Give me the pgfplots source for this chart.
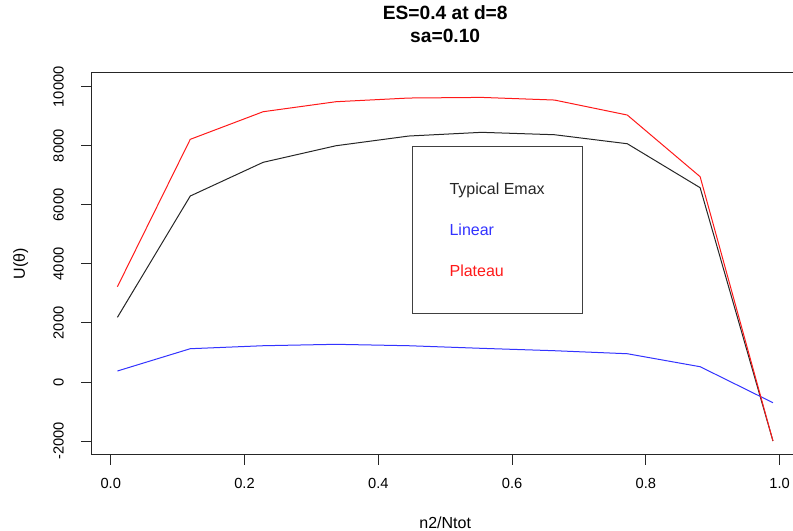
\documentclass[border=0pt]{standalone}
\usepackage{fontspec}
\setmainfont{Liberation Sans}
\usepackage{pgfplots}
\pgfplotsset{compat=1.18}
\pgfplotstableread{
x        emax   linear  plateau
0.01     2191   373     3228
0.11889  6300   1128    8220
0.22778  7441   1229    9155
0.33667  8003   1277    9494
0.44556  8332   1229    9619
0.55444  8457   1141    9640
0.66333  8376   1060    9551
0.77222  8071   958     9043
0.88111  6581   518     6954
0.99     -1998  -701    -1998
}\datatable
\begin{document}
\begin{tikzpicture}
\useasboundingbox (0,0) rectangle (594.75pt,398.25pt);
\begin{axis}[
  at={(68.4pt,57pt)}, anchor=south west,
  scale only axis, width=531pt, height=286.7pt,
  xmin=-0.0292, xmax=1.0292, ymin=-2472, ymax=10476,
  axis line style={black!85, line width=0.75pt},
  tick style={black!85, line width=0.75pt},
  tick pos=left, tick align=outside, major tick length=7.5pt,
  xtick={0,0.2,0.4,0.6,0.8,1},
  ytick={-2000,0,2000,4000,6000,8000,10000},
  scaled x ticks=false, scaled y ticks=false,
  /pgf/number format/assume math mode=true,
  xticklabel={\pgfmathprintnumber[fixed, fixed zerofill, precision=1]{\tick}},
  yticklabel={\pgfmathprintnumber[int detect, 1000 sep={}]{\tick}},
  ticklabel style={font=\fontsize{11}{13}\selectfont},
  xticklabel style={anchor=north, inner sep=0pt, yshift=-9.5pt},
  yticklabel style={xshift=-12.9pt, rotate=90, anchor=south, inner sep=0pt},
  xlabel={n2/Ntot},
  ylabel={U(θ)},
  label style={font=\fontsize{12}{14}\selectfont, inner sep=0pt},
  xlabel style={at={(axis description cs:0.5,-0.1918)}, anchor=base},
  ylabel style={at={(axis description cs:-0.0936,0.5)}, rotate=0, anchor=base},
  title={ES=0.4 at d=8\\sa=0.10},
  title style={at={(axis description cs:0.5,1.0576)}, anchor=base, align=center,
    font=\bfseries\fontsize{14.4}{17.55}\selectfont, inner sep=0pt},
  legend style={at={(axis cs:0.45,8003)}, anchor=north west, draw=black!75,
    line width=0.75pt, inner xsep=28pt, inner ysep=27.5pt, row sep=22.15pt,
    font=\fontsize{12}{14}\selectfont,
    nodes={inner sep=0pt, text height=8.6pt, text depth=0pt}},
  legend cell align=left, legend plot pos=none,
]
\addplot[black!85, line width=0.75pt] table[x=x, y=emax] {\datatable};
\addlegendentry{\textcolor{black!85}{Typical Emax}}
\addplot[blue!80, line width=0.75pt] table[x=x, y=linear] {\datatable};
\addlegendentry{\textcolor{blue!80}{Linear}}
\addplot[red!90, line width=0.75pt] table[x=x, y=plateau] {\datatable};
\addlegendentry{\textcolor{red!90}{Plateau}}
\end{axis}
\end{tikzpicture}
\end{document}
